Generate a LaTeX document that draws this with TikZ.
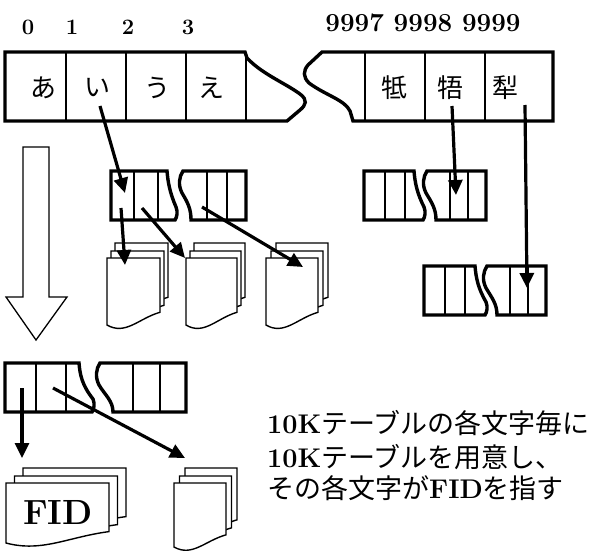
\documentclass[tikz,border=0pt]{standalone}
\usepackage{fontspec}
\newfontfamily\jp{Noto Sans CJK JP}
\usetikzlibrary{arrows.meta}
\tikzset{
  tabout/.style={line width=3.4pt, line join=miter, fill=white},
  tabdiv/.style={line width=1.8pt},
  ptr/.style={line width=3.2pt, -{Triangle[length=15pt,width=14pt]}},
  page/.style={line width=1.4pt, fill=white, line join=miter},
  hollow/.style={line width=1.3pt, fill=white, line join=miter},
  cellch/.style={font=\jp\fontsize{26}{26}\selectfont, inner sep=0pt},
  idxs/.style={font=\bfseries\fontsize{22}{22}\selectfont, inner sep=0pt},
  idxl/.style={font=\bfseries\fontsize{26}{26}\selectfont, inner sep=0pt},
  note/.style={font=\jp\fontsize{27}{33}\selectfont, inner sep=0pt, anchor=base west},
  fidtxt/.style={font=\bfseries\fontsize{35}{35}\selectfont, inner sep=0pt}
}
\newcommand\lmb[1]{{\normalfont\bfseries #1}}
\def\brs{9}
% #1 top, #2 left, #3 d1, #4 d2, #5 break-left, #6 break-right, #7 d3, #8 d4, #9 right
\newcommand\brktab[9]{%
  \filldraw[tabout] (#2,#1) -- (#5,#1)
    .. controls ({#5+1},{#1+12}) and ({#5+3},{#1+22}) .. ({#5+\brs+1},{#1+36})
    .. controls ({#5+\brs+3},{#1+41}) and ({#5+\brs+2},{#1+46}) .. ({#5+\brs},{#1+49})
    -- (#2,{#1+49}) -- cycle;
  \filldraw[tabout] (#9,#1) -- (#6,#1)
    .. controls ({#6-4},{#1+6}) and ({#6-5},{#1+14}) .. ({#6-1},{#1+22})
    .. controls ({#6+5},{#1+32}) and ({#6+\brs},{#1+38}) .. ({#6+\brs},{#1+49})
    -- (#9,{#1+49}) -- cycle;
  \draw[tabdiv] (#3,#1) -- (#3,{#1+49}) (#4,#1) -- (#4,{#1+49})
    (#7,#1) -- (#7,{#1+49}) (#8,#1) -- (#8,{#1+49});
}
% one page: #1 x, #2 y, #3 w, #4 h
\newcommand\docpage[4]{%
  \filldraw[page] (#1,#2) -- ({#1+#3},#2) -- ({#1+#3},{#2+#4-0.19*#4})
    .. controls ({#1+0.6*#3},{#2+#4-0.1*#4}) and ({#1+0.35*#3},{#2+#4+0.16*#4}) .. (#1,{#2+#4}) -- cycle;
}
% stack: #1 x, #2 y, #3 w, #4 h, #5 dx
\newcommand\docstack[5]{%
  \docpage{#1+2*#5}{#2-15}{#3}{#4}
  \docpage{#1+#5}{#2-7}{#3}{#4}
  \docpage{#1}{#2}{#3}{#4}
}
\begin{document}
\begin{tikzpicture}[x=1pt,y=-1pt]
\useasboundingbox (0,0) rectangle (596,554);

% ---- index labels
\node[idxs] (i0) at (28,27) {0};
\node[idxs] (i1) at (72,27) {1};
\node[idxs] (i2) at (128,27) {2};
\node[idxs] (i3) at (188,27) {3};
\node[idxl] (i9) at (423,23) {9997 9998 9999};

% ---- main 10K table
\filldraw[tabout] (5,52) -- (245,52) -- (247,58)
  .. controls (262,74) and (285,83) .. (300,94)
  .. controls (308,100) and (306,105) .. (300,110) -- (287,121) -- (5,121) -- cycle;
\filldraw[tabout] (553,52) -- (322,52) -- (308,65)
  .. controls (303,71) and (303,77) .. (309,83)
  .. controls (325,95) and (345,100) .. (350,111) -- (353,121) -- (553,121) -- cycle;
\draw[tabdiv] (66,52) -- (66,121) (126,52) -- (126,121) (186,52) -- (186,121) (246,52) -- (246,121)
  (365,52) -- (365,121) (425,52) -- (425,121) (485,52) -- (485,121);
\node[cellch] (ca) at (43,88) {あ};
\node[cellch] (ci) at (97,88) {い};
\node[cellch] (cu) at (157,88) {う};
\node[cellch] (ce) at (211,88) {え};
\node[cellch] (ck1) at (394,88) {牴};
\node[cellch] (ck2) at (450,88) {牾};
\node[cellch] (ck3) at (505,88) {犁};

% ---- hollow down arrow
\filldraw[hollow] (23,147) -- (49,147) -- (49,297) -- (67,297) -- (36,340) -- (6,297) -- (23,297) -- cycle;

% ---- second-level tables
\def\brs{8}
\brktab{171}{111}{134}{158}{167}{183}{207}{227}{246}
\def\brs{9}
\brktab{171}{364}{385}{405}{414}{427}{450}{468}{486}
\def\brs{10}
\brktab{266}{424}{445}{465}{475}{487}{510}{528}{546}
\def\brs{13}
\brktab{363}{5}{36}{66}{79}{100}{133}{160}{186}

% ---- document stacks
\docstack{107}{258}{53}{67}{4}
\docstack{186}{258}{51}{67}{4}
\docstack{266}{258}{52}{67}{5}
\docstack{6}{483}{103}{60}{8.5}
\docstack{174}{483}{52}{64}{5.5}
\node[fidtxt] (fid) at (58,512) {FID};

% ---- pointer coordinates
\coordinate (pi) at (100,106);
\coordinate (pk2) at (452,106);
\coordinate (pk3) at (525,105);
\coordinate (s1) at (125,193);
\coordinate (a1) at (121,208);
\coordinate (a2) at (142,208);
\coordinate (a3) at (202,207);
\coordinate (d1) at (125,265);
\coordinate (d2) at (185,258);
\coordinate (d3) at (303,267);
\coordinate (sA) at (456,195);
\coordinate (sB) at (527,288);
\coordinate (b1) at (22,388);
\coordinate (b2) at (53,388);
\coordinate (e1) at (22,458);
\coordinate (e2) at (185,458);

\draw[ptr] (pi) -- (s1);
\draw[ptr] (pk2) -- (sA);
\draw[ptr] (pk3) -- (sB);
\draw[ptr] (a1) -- (d1);
\draw[ptr] (a2) -- (d2);
\draw[ptr] (a3) -- (d3);
\draw[ptr] (b1) -- (e1);
\draw[ptr] (b2) -- (e2);

% ---- note
\node[note] (t1) at (267,433) {\lmb{10K}テーブルの各文字毎に};
\node[note] (t2) at (267,467) {\lmb{10K}テーブルを用意し、};
\node[note] (t3) at (267,498) {その各文字が\lmb{FID}を指す};
\end{tikzpicture}
\end{document}
